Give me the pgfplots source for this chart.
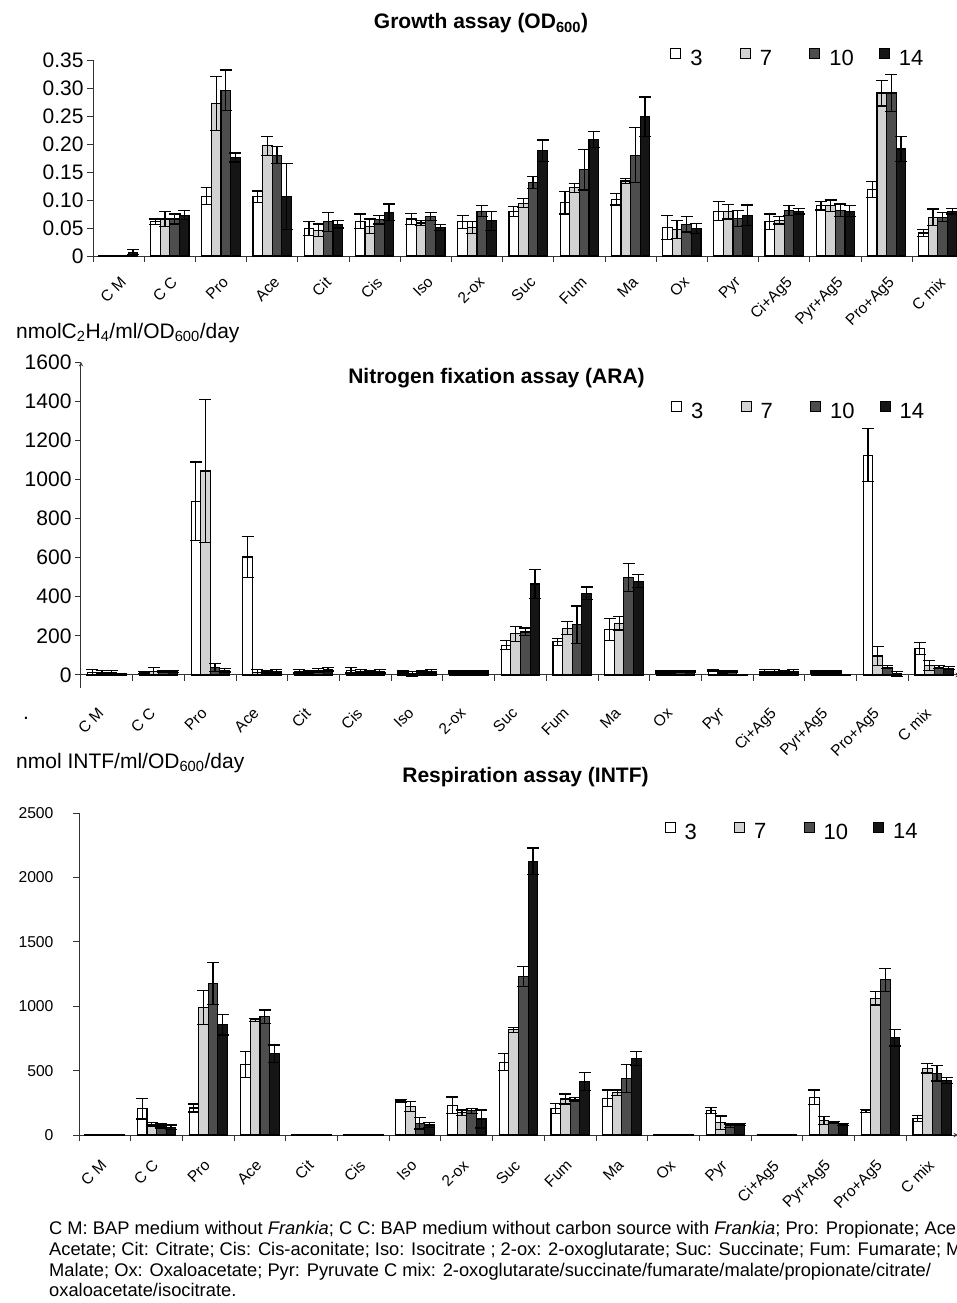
\documentclass[border=0pt]{standalone}
\usepackage{pgfplots}
\pgfplotsset{compat=1.18}
\usepackage{pgfplotstable}
\usepackage{fontspec}
\setmainfont{Liberation Sans}

\definecolor{lgray}{HTML}{D2D2D2}
\definecolor{dgray}{HTML}{4D4D4D}
\definecolor{blk}{HTML}{151515}
\definecolor{axc}{HTML}{333333}

% x: category index; a/b/c/d = day 3/7/10/14 ; ea.. = error
\pgfplotstableread{
x a ea b eb c ec d ed
0 0 0 0 0 0.001 0 0.007 0.005
1 0.061 0.005 0.066 0.014 0.066 0.009 0.073 0.008
2 0.107 0.015 0.272 0.048 0.296 0.036 0.176 0.008
3 0.106 0.010 0.197 0.017 0.180 0.015 0.106 0.059
4 0.049 0.012 0.046 0.011 0.061 0.017 0.057 0.007
5 0.062 0.013 0.053 0.013 0.065 0.008 0.078 0.015
6 0.066 0.010 0.059 0.005 0.071 0.007 0.051 0.005
7 0.061 0.012 0.051 0.011 0.080 0.010 0.063 0.017
8 0.080 0.009 0.094 0.008 0.131 0.011 0.188 0.019
9 0.095 0.020 0.122 0.008 0.154 0.036 0.208 0.014
10 0.101 0.010 0.134 0.005 0.180 0.049 0.249 0.035
11 0.051 0.022 0.047 0.016 0.057 0.014 0.049 0.009
12 0.080 0.017 0.079 0.013 0.067 0.014 0.073 0.018
13 0.061 0.014 0.064 0.007 0.081 0.009 0.080 0.005
14 0.090 0.008 0.090 0.010 0.082 0.011 0.080 0.010
15 0.119 0.014 0.291 0.023 0.291 0.033 0.191 0.022
16 0.041 0.006 0.069 0.015 0.069 0.008 0.080 0.005
}\growth

\pgfplotstableread{
x a ea b eb c ec d ed
0 15 15 15 10 15 8 5 3
1 12 5 18 20 18 5 18 5
2 889 200 1043 367 39 20 25 10
3 603 104 15 15 15 5 20 10
4 20 10 15 5 25 10 30 10
5 25 15 20 10 15 5 20 10
6 15 5 5 12 15 5 20 10
7 15 5 15 5 15 5 15 5
8 152 23 211 38 220 20 465 75
9 169 18 240 33 257 96 417 33
10 233 55 264 34 497 72 480 33
11 15 5 15 5 20 5 20 5
12 25 5 15 5 20 5 0 0
13 20 10 20 10 15 5 20 10
14 15 5 15 5 15 5 0 0
15 1124 135 97 48 40 8 5 13
16 137 31 48 25 40 8 35 8
}\ara

\pgfplotstableread{
x a ea b eb c ec d ed
0 0 0 0 0 0 0 0 0
1 205 80 85 15 70 15 60 18
2 210 31 990 134 1176 163 855 78
3 547 101 894 13 917 54 630 69
4 0 0 0 0 0 0 0 0
5 0 0 0 0 0 0 0 0
6 267 10 220 39 91 44 78 18
7 231 64 174 20 187 20 124 70
8 565 65 816 18 1231 80 2124 104
9 207 37 280 39 277 13 415 69
10 285 65 329 21 440 109 593 55
11 0 0 0 0 0 0 0 0
12 189 23 96 52 73 12 83 8
13 0 0 0 0 0 0 0 0
14 293 57 111 31 98 6 83 8
15 187 12 1062 52 1205 90 756 65
16 127 23 518 36 479 60 422 24
}\intf

\pgfplotsset{
  s3/.style={fill=white, draw=black, line width=1.1pt},
  s7/.style={fill=lgray, draw=black, line width=1.1pt},
  s10/.style={fill=dgray, draw=black, line width=1.1pt},
  s14/.style={fill=blk, draw=black, line width=1.1pt},
  assay/.style={
    scale only axis,
    xmin=-0.5, xmax=16.5,
    xtick={-0.5,0.5,...,16.5},
    x tick label as interval,
    xticklabels={C M,C C,Pro,Ace,Cit,Cis,Iso,2-ox,Suc,Fum,Ma,Ox,Pyr,Ci+Ag5,Pyr+Ag5,Pro+Ag5,C mix},
    axis y line=left,
    axis line style={-, axc, line width=1pt},
    tick style={axc, line width=1pt},
    major tick length=6pt,
    ybar=0pt, bar width=9.6pt,
    /pgf/number format/assume math mode=true,
    /pgf/number format/1000 sep={},
    legend columns=4,
    legend style={draw=none, fill=none, font=\fontsize{22}{26}\selectfont,
      inner sep=0pt, anchor=north west, nodes={inner sep=1pt}},
    legend image code/.code={\draw[#1, line width=1pt] (0pt,0pt) rectangle (10pt,10pt);},
    error bars/y dir=both, error bars/y explicit,
    error bars/error bar style={line width=1.2pt, black},
    error bars/error mark options={rotate=90, line width=1.2pt, black, mark size=6pt},
    clip=false,
  },
}

\newcommand{\lgd}[1]{\makebox[56.5pt][l]{\hspace{8pt}#1}}

\begin{document}
\begin{tikzpicture}[x=1pt,y=1pt]
\path[use as bounding box] (0,0) rectangle (957,-1303);
\clip (0,0) rectangle (957,-1303);

% ---------------- Panel 1 ----------------
\node[anchor=base, font=\bfseries\fontsize{21}{25}\selectfont] at (481,-29) {Growth assay (OD\textsubscript{600})};
\begin{axis}[assay,
  at={(93pt,-256pt)}, anchor=south west,
  width=870.4pt, height=196pt,
  ymin=0, ymax=0.35,
  axis x line=bottom, tick align=outside,
  ytick={0,0.05,0.1,0.15,0.2,0.25,0.3,0.35},
  yticklabels={0,0.05,0.10,0.15,0.20,0.25,0.30,0.35},
  y tick label style={font=\fontsize{21}{25}\selectfont},
  x tick label style={rotate=45, anchor=north east, inner sep=0pt,
    font=\fontsize{15.5}{18}\selectfont, xshift=-9pt, yshift=-10pt},
  legend style={at={(axis description cs:0.663,1.06)}},
]
\addplot[s3] table[x=x,y=a,y error=ea]{\growth}; \addlegendentry{\lgd{3}}
\addplot[s7] table[x=x,y=b,y error=eb]{\growth}; \addlegendentry{\lgd{7}}
\addplot[s10] table[x=x,y=c,y error=ec]{\growth}; \addlegendentry{\lgd{10}}
\addplot[s14] table[x=x,y=d,y error=ed]{\growth}; \addlegendentry{\lgd{14}}
\end{axis}

% ---------------- Panel 2 ----------------
\node[anchor=base west, font=\fontsize{21}{25}\selectfont] at (12.7,-338) {nmolC\textsubscript{2}H\textsubscript{4}/ml/OD\textsubscript{600}/day};
\node[anchor=base, font=\bfseries\fontsize{21}{25}\selectfont] at (496.5,-383) {Nitrogen fixation assay (ARA)};
\node[anchor=base, font=\fontsize{21}{25}\selectfont] at (26,-719) {.};
\begin{axis}[assay,
  at={(81pt,-688pt)}, anchor=south west,
  width=879pt, height=326pt,
  ymin=-66.5, ymax=1600,
  axis x line=middle, axis y line=left, tick align=outside,
  hide obscured x ticks=false, hide obscured y ticks=false,
  ytick={0,200,...,1600},
  y tick label style={font=\fontsize{21}{25}\selectfont},
  x tick label style={rotate=45, anchor=north east, inner sep=0pt,
    font=\fontsize{15.5}{18}\selectfont, xshift=-25pt, yshift=-11pt},
  legend style={at={(axis description cs:0.671,0.881)}},
]
\addplot[s3] table[x=x,y=a,y error=ea]{\ara}; \addlegendentry{\lgd{3}}
\addplot[s7] table[x=x,y=b,y error=eb]{\ara}; \addlegendentry{\lgd{7}}
\addplot[s10] table[x=x,y=c,y error=ec]{\ara}; \addlegendentry{\lgd{10}}
\addplot[s14] table[x=x,y=d,y error=ed]{\ara}; \addlegendentry{\lgd{14}}
\end{axis}

% ---------------- Panel 3 ----------------
\node[anchor=base west, font=\fontsize{21}{25}\selectfont] at (12.7,-768) {nmol INTF/ml/OD\textsubscript{600}/day};
\node[anchor=base, font=\bfseries\fontsize{21}{25}\selectfont] at (525.5,-782) {Respiration assay (INTF)};
\begin{axis}[assay,
  at={(79pt,-1135pt)}, anchor=south west,
  width=879pt, height=322pt,
  ymin=0, ymax=2500,
  axis x line=bottom, tick align=outside,
  ytick={0,500,...,2500},
  y tick label style={font=\fontsize{15.7}{19}\selectfont, xshift=-16pt},
  x tick label style={rotate=45, anchor=north east, inner sep=0pt,
    font=\fontsize{15.5}{18}\selectfont, xshift=-16pt, yshift=-9pt},
  legend style={at={(axis description cs:0.666,0.974)}},
]
\addplot[s3] table[x=x,y=a,y error=ea]{\intf}; \addlegendentry{\lgd{3}}
\addplot[s7] table[x=x,y=b,y error=eb]{\intf}; \addlegendentry{\lgd{7}}
\addplot[s10] table[x=x,y=c,y error=ec]{\intf}; \addlegendentry{\lgd{10}}
\addplot[s14] table[x=x,y=d,y error=ed]{\intf}; \addlegendentry{\lgd{14}}
\end{axis}

% ---------------- Caption ----------------
\node[anchor=north west, align=left, inner sep=0pt, font=\fontsize{18.3}{20.8}\selectfont] at (49,-1221) {%
C M: BAP medium without \textit{Frankia}; C C: BAP medium without carbon source with \textit{Frankia}; Pro: Propionate; Ace:\\
Acetate; Cit: Citrate; Cis: Cis-aconitate; Iso: Isocitrate ; 2-ox: 2-oxoglutarate; Suc: Succinate; Fum: Fumarate; Ma:\\
Malate; Ox: Oxaloacetate; Pyr: Pyruvate C mix: 2-oxoglutarate/succinate/fumarate/malate/propionate/citrate/\\
oxaloacetate/isocitrate.};
\end{tikzpicture}
\end{document}
